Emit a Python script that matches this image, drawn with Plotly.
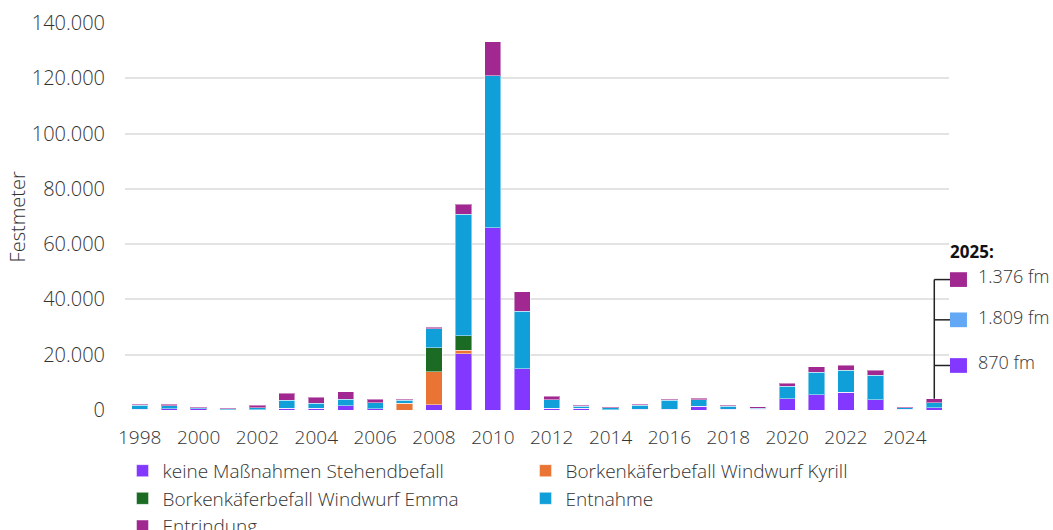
import plotly.graph_objects as go

YEARS = list(range(1998, 2026))

# Festmeter per category (stack order bottom -> top)
KEINE = [200, 400, 400, 100, 100, 700, 700, 1600, 400, 0, 1900, 20400, 66000, 15000,
         700, 700, 100, 350, 250, 1300, 350, 350, 4100, 5600, 6400, 3700, 350, 870]
KYRILL = [0, 0, 0, 0, 0, 0, 0, 0, 0, 2500, 12000, 1300, 0, 0,
          0, 0, 0, 0, 0, 0, 0, 0, 0, 0, 0, 0, 0, 0]
EMMA = [0, 0, 0, 0, 0, 0, 0, 0, 0, 0, 8600, 5200, 0, 0,
        0, 0, 0, 0, 0, 0, 0, 0, 0, 0, 0, 0, 0, 0]
ENTNAHME = [1500, 1200, 400, 300, 800, 2900, 1800, 2300, 2200, 1000, 6900, 44000, 54900, 20700,
            3100, 600, 800, 1300, 3300, 2400, 1000, 350, 4500, 8000, 8000, 8800, 500, 1809]
ENTRINDUNG = [400, 500, 400, 300, 900, 2400, 2200, 2700, 1300, 400, 500, 3600, 12300, 7100,
              1200, 350, 350, 350, 350, 500, 350, 450, 1000, 2100, 1800, 1800, 350, 1376]

NAMES = ["keine Maßnahmen Stehendbefall", "Borkenkäferbefall Windwurf Kyrill",
         "Borkenkäferbefall Windwurf Emma", "Entnahme", "Entrindung"]
COLORS = ["#8338FF", "#EA7434", "#1B6B24", "#109FD8", "#A02890"]
SERIES = [KEINE, KYRILL, EMMA, ENTNAHME, ENTRINDUNG]

Y_TICKS = [0, 20000, 40000, 60000, 80000, 100000, 120000, 140000]
X_TICKS = list(range(1998, 2025, 2))

CALLOUT_YEAR = "2025:"
CALLOUT_LABELS = ["1.376 fm", "1.809 fm", "870 fm"]
CALLOUT_COLORS = ["#A02890", "#63A8F5", "#8338FF"]

FONT = "Open Sans"
TXT = "#333333"
W = 300

fig = go.Figure()
for name, vals, col in zip(NAMES, SERIES, COLORS):
    fig.add_trace(go.Bar(
        x=YEARS, y=vals, name=name,
        marker=dict(color=col, line=dict(color="rgba(255,255,255,0.45)", width=1)),
        hovertemplate="%{x}: %{y:,d} fm<extra>" + name + "</extra>",
    ))

xr = [YEARS[0] - 0.5, YEARS[-1] + 0.5]
yr = [0, 140000]

fig.update_layout(
    width=1053, height=530,
    margin=dict(l=125, r=104, t=23, b=120, autoexpand=False),
    barmode="stack", bargap=0.45,
    plot_bgcolor="white", paper_bgcolor="white",
    separators=",.",
    font=dict(family=FONT, size=18, color=TXT, weight=W),
    showlegend=True,
    legend=dict(orientation="h", x=-0.003, y=-0.108, xanchor="left", yanchor="top",
                traceorder="normal", entrywidth=358, entrywidthmode="pixels",
                font=dict(family=FONT, size=19, color=TXT, weight=W), tracegroupgap=0),
)
fig.update_xaxes(range=xr, tickmode="array", tickvals=X_TICKS,
                 ticktext=[str(v) for v in X_TICKS], showgrid=False,
                 zeroline=False, showline=False, ticks="", ticklabelstandoff=14,
                 tickfont=dict(family=FONT, size=19, color=TXT, weight=W))
fig.update_yaxes(range=yr, tickmode="array", tickvals=Y_TICKS,
                 tickformat=",d", showgrid=True, gridcolor="#E3E3E3", gridwidth=1.5,
                 zeroline=False, showline=False, ticks="", ticklabelstandoff=19,
                 tickfont=dict(family=FONT, size=20, color=TXT, weight=W))

# y-axis title
fig.add_annotation(text="Festmeter", xref="paper", yref="paper", x=-0.130, y=0.5,
                   textangle=-90, showarrow=False, xanchor="center", yanchor="middle",
                   font=dict(family=FONT, size=20, color=TXT, weight=W))

# callout for last year
last_total = sum(s[-1] for s in SERIES)
px_last = (YEARS[-1] - xr[0]) / (xr[1] - xr[0])
callout_y = [0.337, 0.233, 0.115]
box_x0, box_x1 = 1.0012, 1.0218
box_h = 0.019
fig.add_shape(type="line", xref="paper", yref="y", x0=px_last, x1=px_last,
              y0=last_total, y1=callout_y[0] * yr[1], line=dict(color="#222", width=1.5))
for yy, lab, col in zip(callout_y, CALLOUT_LABELS, CALLOUT_COLORS):
    fig.add_shape(type="line", xref="paper", yref="paper", x0=px_last, x1=box_x0,
                  y0=yy, y1=yy, line=dict(color="#222", width=1.5))
    fig.add_shape(type="rect", xref="paper", yref="paper", x0=box_x0, x1=box_x1,
                  y0=yy - box_h, y1=yy + box_h, fillcolor=col, line=dict(width=0))
    fig.add_annotation(text=lab, xref="paper", yref="paper", x=1.033, y=yy + 0.008,
                       xanchor="left", yanchor="middle", showarrow=False,
                       font=dict(family=FONT, size=18, color=TXT, weight=W))
fig.add_annotation(text="<b>" + CALLOUT_YEAR + "</b>", xref="paper", yref="paper",
                   x=0.999, y=0.41, xanchor="left", yanchor="middle", showarrow=False,
                   font=dict(family=FONT, size=17, color="#111", weight=600))

fig.write_html("out.html", post_script="document.body.style.margin='0';",
               config={"displayModeBar": False})
